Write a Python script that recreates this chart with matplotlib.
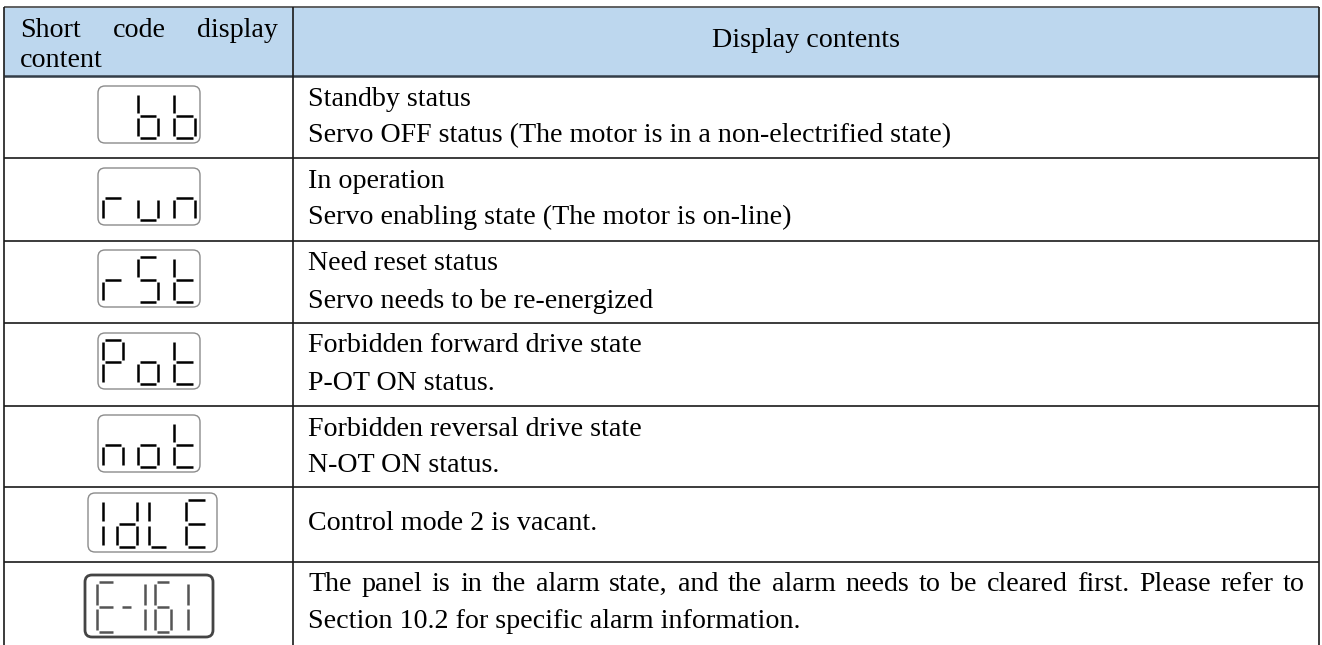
import matplotlib
matplotlib.use('Agg')
import matplotlib.pyplot as plt
from matplotlib.patches import Rectangle, FancyBboxPatch

plt.rcParams['font.family'] = ['Liberation Serif', 'DejaVu Serif']

# table content
header_left = ['Short', 'code', 'display']
header_left_2 = 'content'
header_right = 'Display contents'

codes = ['bb', 'run', 'rSt', 'Pot', 'not', 'IdLE', 'E-161']
descriptions = [
    ['Standby status', 'Servo OFF status (The motor is in a non-electrified state)'],
    ['In operation', 'Servo enabling state (The motor is on-line)'],
    ['Need reset status', 'Servo needs to be re-energized'],
    ['Forbidden forward drive state', 'P-OT ON status.'],
    ['Forbidden reversal drive state', 'N-OT ON status.'],
    ['Control mode 2 is vacant.'],
    ['The panel is in the alarm state, and the alarm needs to be cleared first. Please refer to',
     'Section 10.2 for specific alarm information.'],
]

# seven segment letters
SEG = {'b': 'cdefg', 'r': 'eg', 'u': 'cde', 'n': 'ceg', 'S': 'acdfg', 't': 'defg',
       'P': 'abefg', 'o': 'cdeg', 'I': 'ef', 'd': 'bcdeg', 'L': 'def', 'E': 'adefg',
       '-': 'g', '1': 'bc', '6': 'acdefg'}

# layout (pixels)
W, H = 1322, 645
XL, XM, XR = 4, 293, 1319
YT = 7
rows = [76, 158, 241, 323, 406, 487, 562, 645]
FS = 20.2

# icon boxes: x0, x1, top, bottom ; digit slots (left, width)
three = [(103, 20), (138, 20), (174, 21)]
icons = [
    (98, 200, 86, 143, three[1:]),
    (98, 200, 168, 225, three),
    (98, 200, 250, 307, three),
    (98, 200, 333, 389, three),
    (98, 200, 415, 472, three),
    (88, 217, 493, 552, [(103, 20), (117, 20), (149, 19), (186, 21)]),
    (85, 213, 575, 637, [(97, 18), (120, 13), (127, 18), (155, 16), (170, 18)]),
]

fig = plt.figure(figsize=(W / 100, H / 100), dpi=100)
ax = fig.add_axes([0, 0, 1, 1])
ax.set_xlim(0, W)
ax.set_ylim(H, 0)
ax.axis('off')
rend = fig.canvas.get_renderer()

# header background
ax.add_patch(Rectangle((XL, YT), XR - XL, rows[0] - YT, facecolor='#BDD7EE', edgecolor='none'))

# grid lines
lc = '#1a1a1a'
ax.plot([XL, XR], [YT, YT], color='#555555', lw=1.3, solid_capstyle='butt')
ax.plot([XL, XR], [rows[0], rows[0]], color='#333d48', lw=1.8, solid_capstyle='butt')
for y in rows[1:-1]:
    ax.plot([XL, XR], [y, y], color=lc, lw=1.2, solid_capstyle='butt')
for x in [XL, XM, XR]:
    ax.plot([x, x], [YT, H], color=lc, lw=1.2, solid_capstyle='butt')


def justify(words, x0, x1, y):
    ts = [ax.text(0, y, w, fontsize=FS, va='baseline', ha='left') for w in words]
    ws = [t.get_window_extent(rend).width for t in ts]
    gap = (x1 - x0 - sum(ws)) / (len(words) - 1)
    x = x0
    for t, w in zip(ts, ws):
        t.set_x(x)
        x += w + gap


# header text
justify(header_left, 20, 278, 37)
ax.text(20, 67, header_left_2, fontsize=FS, va='baseline')
ax.text((XM + XR) / 2, 47, header_right, fontsize=FS, va='baseline', ha='center')

# descriptions
for i, lines in enumerate(descriptions):
    top, bot = rows[i], rows[i + 1]
    if len(lines) == 1:
        ax.text(308, (top + bot) / 2 + 6, lines[0], fontsize=FS, va='baseline')
    elif i == len(descriptions) - 1:
        justify(lines[0].split(' '), 308, 1305, top + 29)
        ax.text(308, top + 66, lines[1], fontsize=FS, va='baseline')
    else:
        ax.text(308, top + 29.5, lines[0], fontsize=FS, va='baseline')
        ax.text(308, top + 66.5, lines[1], fontsize=FS, va='baseline')


def digit(ch, x0, w, yt, yb, color, lw):
    x1 = x0 + w
    ym = (yt + yb) / 2
    g = 2.3
    segs = {'a': ([x0 + g, x1 - g], [yt, yt]),
            'b': ([x1, x1], [yt + g, ym - g]),
            'c': ([x1, x1], [ym + g, yb - g]),
            'd': ([x0 + g, x1 - g], [yb, yb]),
            'e': ([x0, x0], [ym + g, yb - g]),
            'f': ([x0, x0], [yt + g, ym - g]),
            'g': ([x0 + g, x1 - g], [ym, ym])}
    for s in SEG[ch]:
        xs, ys = segs[s]
        ax.plot(xs, ys, color=color, lw=lw, solid_capstyle='butt')


for k, (code, (bx0, bx1, by0, by1, slots)) in enumerate(zip(codes, icons)):
    alarm = k == len(codes) - 1
    ax.add_patch(FancyBboxPatch((bx0, by0), bx1 - bx0, by1 - by0,
                                boxstyle='round,pad=0,rounding_size=7',
                                facecolor='white',
                                edgecolor='#444444' if alarm else '#8c8c8c',
                                lw=2.0 if alarm else 1.0))
    for ch, (sx, sw) in zip(code, slots):
        digit(ch, sx, sw, by0 + 7, by1 - 5,
              '#555555' if alarm else 'black', 1.8)

fig.savefig('out.png', dpi=100)
